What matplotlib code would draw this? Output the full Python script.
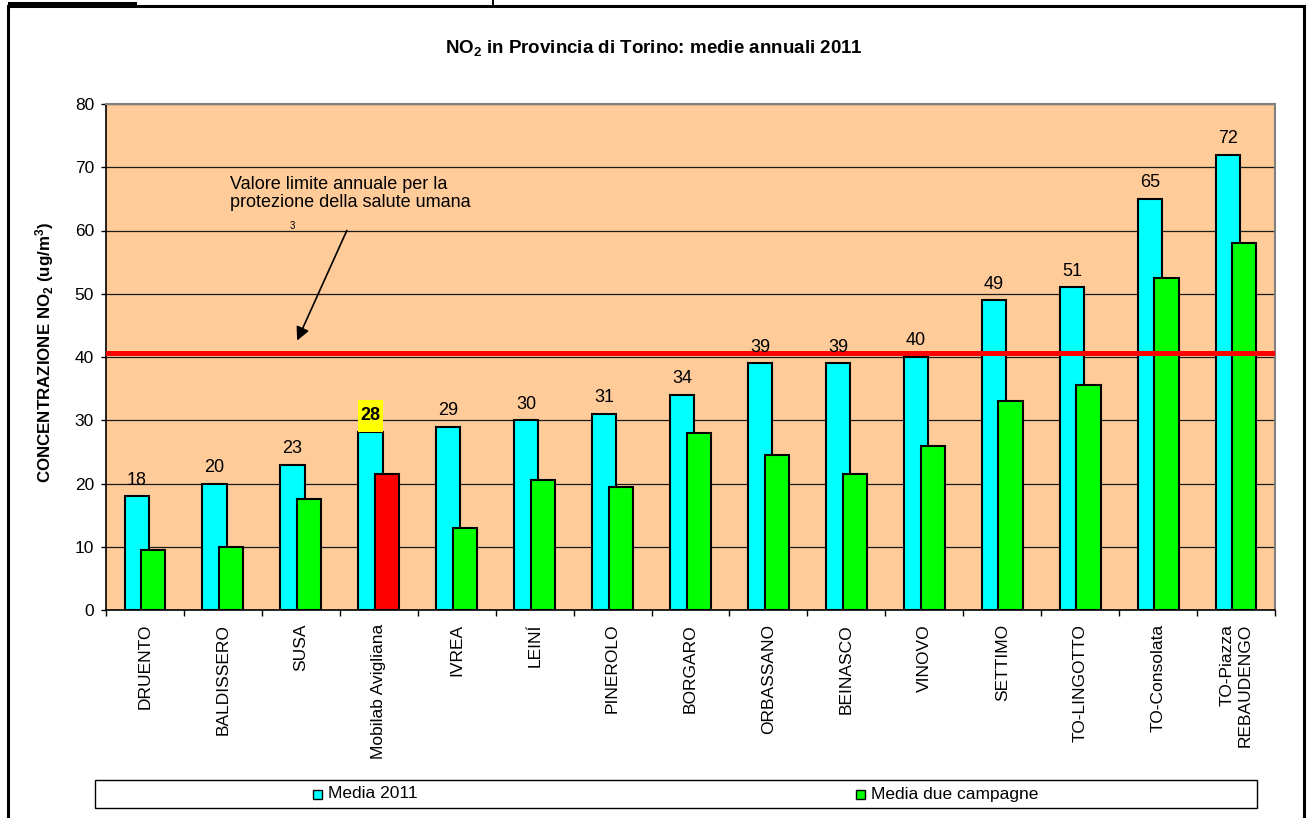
import matplotlib
matplotlib.use('Agg')
import matplotlib.pyplot as plt
import numpy as np
from matplotlib.patches import Rectangle

# ---------------- data ----------------
stations = ["DRUENTO", "BALDISSERO", "SUSA", "Mobilab Avigliana", "IVREA", "LEINÍ",
            "PINEROLO", "BORGARO", "ORBASSANO", "BEINASCO", "VINOVO", "SETTIMO",
            "TO-LINGOTTO", "TO-Consolata", "TO-Piazza\nREBAUDENGO"]
media_2011 = [18, 20, 23, 28.2, 29, 30, 31, 34, 39, 39, 40, 49, 51, 65, 72]
media_campagne = [9.5, 10, 17.5, 21.5, 13, 20.5, 19.5, 28, 24.5, 21.5, 26, 33, 35.5, 52.5, 58]
highlight = "Mobilab Avigliana"
limit_value = 40.7
series_names = ["Media 2011", "Media due campagne"]
title = r"NO$_\mathbf{2}$ in Provincia di Torino: medie annuali 2011"
ylabel = r"CONCENTRAZIONE NO$_\mathbf{2}$ (ug/m$^\mathbf{3}$)"
note = "Valore limite annuale per la\nprotezione della salute umana"

# ---------------- style ----------------
plt.rcParams['font.family'] = ['Liberation Sans', 'DejaVu Sans']
plt.rcParams['mathtext.fontset'] = 'custom'
plt.rcParams['mathtext.rm'] = 'Liberation Sans'
plt.rcParams['mathtext.bf'] = 'Liberation Sans:bold'
plt.rcParams['mathtext.it'] = 'Liberation Sans:italic'

W, H = 1308, 818
fig = plt.figure(figsize=(W / 100, H / 100), dpi=100)
fig.patch.set_facecolor('white')

def fx(px):
    return px / W

def fy(py):
    return 1 - py / H

ax = fig.add_axes([fx(106), fy(610), fx(1275) - fx(106), fy(104) - fy(610)])
ax.set_facecolor('#FFCC99')

x = np.arange(len(stations))
w = 0.31
off = 0.107
ax.bar(x - off, media_2011, w, color='#00FFFF', edgecolor='black', linewidth=1.5, zorder=3)
green_colors = ['#FF0000' if s == highlight else '#00FF00' for s in stations]
ax.bar(x + off, media_campagne, w, color=green_colors, edgecolor='black', linewidth=1.5, zorder=4)

ax.set_xlim(-0.5, len(stations) - 0.5)
ax.set_ylim(0, 80)
ax.set_yticks(np.arange(0, 81, 10))
ax.yaxis.grid(True, color='#1a1a1a', linewidth=0.9)
ax.set_axisbelow(True)

for s in ['top', 'right']:
    ax.spines[s].set_color('#808080')
    ax.spines[s].set_linewidth(1.5)
for s in ['left', 'bottom']:
    ax.spines[s].set_color('black')
    ax.spines[s].set_linewidth(1.2)

ax.set_xticks(x)
ax.set_xticklabels(stations, rotation=90, fontsize=12.5, va='top', ha='center',
                   multialignment='right')
ax.set_xticks(np.arange(-0.5, len(stations), 1), minor=True)
ax.tick_params(axis='x', which='major', length=0, pad=10)
ax.tick_params(axis='x', which='minor', length=4.5, width=1, direction='out', color='black')
ax.tick_params(axis='y', length=3.6, width=1, labelsize=12.5, pad=5, color='black')

# value labels
for i, v in enumerate(media_2011):
    bold = stations[i] == highlight
    if bold:
        ax.add_patch(Rectangle((x[i] - off - w / 2, v), w, 5.0, facecolor='#FFFF00',
                               edgecolor='none', zorder=5))
    ax.annotate(f"{v:.0f}", (x[i] - off, v), xytext=(0, 8.3), textcoords='offset points',
                ha='center', va='baseline', fontsize=13,
                fontweight='bold' if bold else 'normal', zorder=6)

# limit line
ax.axhline(limit_value, xmin=0.0017, xmax=0.998, color='#FF0000', linewidth=3.6, zorder=5)

# annotation
ax.text(1.091, 68.6, note, fontsize=13, va='top', ha='left', linespacing=1.1, zorder=6)
ax.text(1.887, 60.7, "3", fontsize=7, ha='center', va='center', zorder=6)
ax.annotate('', xy=(1.938, 42.2), xytext=(2.605, 60.4),
            arrowprops=dict(arrowstyle='-|>', color='black', lw=1.2, mutation_scale=20),
            zorder=6)

# title & y label
fig.text(0.5, fy(48), title, fontsize=13.5, fontweight='bold', ha='center', va='center')
fig.text(fx(45), fy(352), ylabel, rotation=90, fontsize=12.2, fontweight='bold',
         ha='center', va='center')

# legend (manual box)
fig.patches.append(Rectangle((fx(95), fy(808)), fx(1257) - fx(95), fy(780) - fy(808),
                             transform=fig.transFigure, facecolor='white',
                             edgecolor='black', linewidth=1.0))
leg_x = [313, 856]
leg_cols = ['#00FFFF', '#00FF00']
for lx, col, name in zip(leg_x, leg_cols, series_names):
    fig.patches.append(Rectangle((fx(lx), fy(799)), fx(9), 9 / H, transform=fig.transFigure,
                                 facecolor=col, edgecolor='black', linewidth=1.0))
    fig.text(fx(lx + 15), fy(794), name, fontsize=12.5, ha='left', va='center')

# outer frame
fig.patches.append(Rectangle((fx(8), -0.02), fx(1304) - fx(8), fy(6) + 0.02,
                             transform=fig.transFigure, fill=False, edgecolor='black',
                             linewidth=2.2))
fig.patches.append(Rectangle((fx(8), fy(7)), fx(129), 5 / H, transform=fig.transFigure,
                             facecolor='black', edgecolor='none'))
fig.patches.append(Rectangle((fx(492), fy(6)), fx(1.5), 6 / H, transform=fig.transFigure,
                             facecolor='black', edgecolor='none'))

fig.savefig('out.png', dpi=100)
